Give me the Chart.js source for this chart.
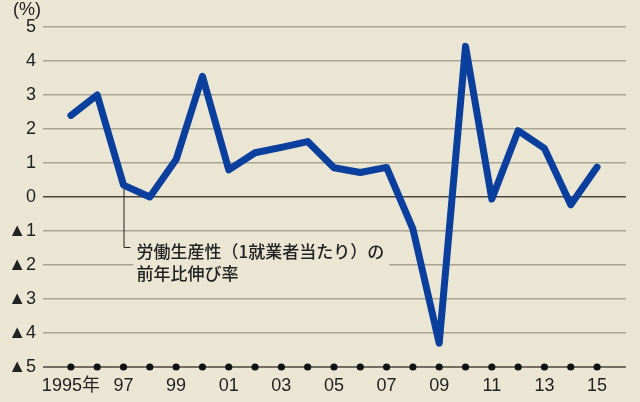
<!DOCTYPE html>
<html>
<head>
<meta charset="utf-8">
<script src="https://cdn.jsdelivr.net/npm/chart.js@4/dist/chart.umd.min.js"></script>
<style>
  html,body{margin:0;padding:0;background:#ebe5d3;}
  #wrap{width:640px;height:402px;position:relative;}
</style>
</head>
<body>
<div id="wrap"><canvas id="chart"></canvas></div>
<script>
// labour productivity (per worker), year-on-year change, %
const years = [1995,1996,1997,1998,1999,2000,2001,2002,2003,2004,2005,2006,2007,2008,2009,2010,2011,2012,2013,2014,2015];
const growth = [2.4,3.0,0.35,0.0,1.1,3.55,0.8,1.3,1.46,1.63,0.86,0.72,0.87,-0.94,-4.3,4.43,-0.06,1.95,1.43,-0.23,0.88];
const xTickLabels = {1995:"1995年",1997:"97",1999:"99",2001:"01",2003:"03",2005:"05",2007:"07",2009:"09",2011:"11",2013:"13",2015:"15"};
const yTicks = [5,4,3,2,1,0,-1,-2,-3,-4,-5];
const seriesLabel = ["労働生産性（1就業者当たり）の","前年比伸び率"];
const unitLabel = "(%)";

const FONT = '"Liberation Sans", "Noto Sans CJK JP", sans-serif';
const JP_FONT = '"Noto Sans CJK JP", sans-serif';
const BG = "#ebe5d3";
const DARK = "#4a463e";

const extras = {
  id: "extras",
  beforeDraw(chart){
    const {ctx} = chart;
    ctx.save();
    ctx.fillStyle = BG;
    ctx.fillRect(0,0,chart.width,chart.height);
    ctx.restore();
  },
  beforeDatasetsDraw(chart){
    // baseline at -5
    const {ctx, chartArea:a, scales:{y}} = chart;
    const by = Math.round(y.getPixelForValue(-5));
    ctx.save();
    ctx.strokeStyle = DARK;
    ctx.lineWidth = 1.6;
    ctx.beginPath();
    ctx.moveTo(a.left, by);
    ctx.lineTo(a.right, by);
    ctx.stroke();
    ctx.restore();
  },
  afterDatasetsDraw(chart){
    const {ctx, scales:{x,y}} = chart;
    ctx.save();
    // unit
    ctx.fillStyle = "#222";
    ctx.font = "18px " + FONT;
    ctx.textBaseline = "middle";
    ctx.textAlign = "left";
    ctx.fillText(unitLabel, 13, 10);

    // leader line from 1997 point to label
    const i = years.indexOf(1997);
    const px = x.getPixelForValue(years[i]);
    const py = y.getPixelForValue(growth[i]) + 4;
    const ly = y.getPixelForValue(-1.47);
    ctx.strokeStyle = "#222";
    ctx.lineWidth = 1;
    ctx.beginPath();
    ctx.moveTo(px+0.5, py);
    ctx.lineTo(px+0.5, ly+0.5);
    ctx.lineTo(px+7, ly+0.5);
    ctx.stroke();

    // label with background box
    ctx.font = "500 17px " + JP_FONT;
    const tx = px + 13;
    const w = Math.max(...seriesLabel.map(s => ctx.measureText(s).width));
    ctx.fillStyle = BG;
    ctx.fillRect(tx-3, ly-10, w+8, 46);
    ctx.fillStyle = "#222";
    ctx.textAlign = "left";
    ctx.textBaseline = "middle";
    ctx.fillText(seriesLabel[0], tx, ly+5);
    ctx.fillText(seriesLabel[1], tx, ly+27);
    ctx.restore();
  }
};

new Chart(document.getElementById("chart"), {
  type: "line",
  data: {
    datasets: [
      {
        data: years.map((yr,k)=>({x:yr,y:growth[k]})),
        borderColor: "#0b3f9e",
        borderWidth: 7,
        pointRadius: 0,
        tension: 0,
        borderJoinStyle: "round",
        borderCapStyle: "round",
        clip: false,
        order: 1
      },
      {
        data: years.map(yr=>({x:yr,y:-5})),
        showLine: false,
        pointRadius: 3.6,
        pointBackgroundColor: "#111",
        pointBorderWidth: 0,
        clip: false,
        order: 2
      }
    ]
  },
  options: {
    responsive: true,
    maintainAspectRatio: false,
    animation: false,
    layout: { padding: { top: 27, right: 14, left: 0, bottom: 0 } },
    plugins: { legend: { display: false }, tooltip: { enabled: false } },
    scales: {
      x: {
        type: "linear",
        min: 1993.94,
        max: 2016.1,
        border: { display: false },
        grid: { display: false, drawTicks: false },
        afterBuildTicks(s){ s.ticks = years.map(v=>({value:v})); },
        afterFit(s){ s.height = 35; },
        ticks: {
          autoSkip: false,
          maxRotation: 0,
          padding: 8,
          color: "#222",
          font: { family: FONT, size: 18 },
          callback: v => xTickLabels[v] || ""
        }
      },
      y: {
        min: -5,
        max: 5,
        border: { display: false },
        afterBuildTicks(s){ s.ticks = yTicks.map(v=>({value:v})); },
        afterFit(s){ s.width = 43; },
        grid: {
          drawTicks: false,
          lineWidth: 1.6,
          color: c => c.tick.value === 0 ? DARK : (c.tick.value === -5 ? "rgba(0,0,0,0)" : "#aaa393")
        },
        ticks: {
          padding: 7,
          color: "#222",
          font: { family: FONT, size: 18 },
          callback: v => v < 0 ? "▲" + (-v) : String(v)
        }
      }
    }
  },
  plugins: [extras]
});
</script>
</body>
</html>
